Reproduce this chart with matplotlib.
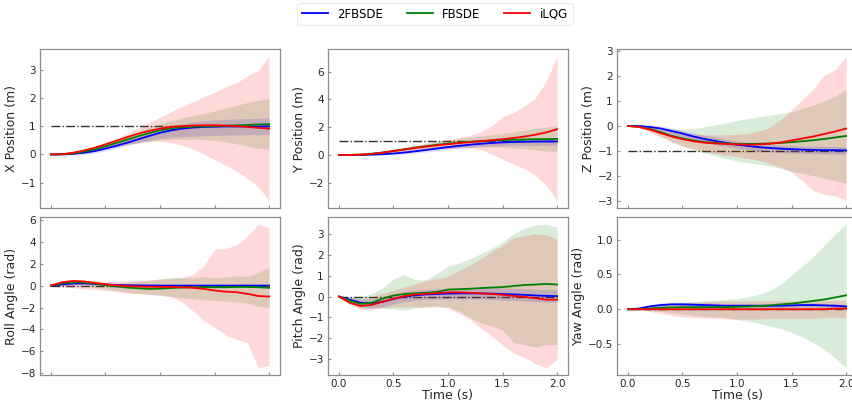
import numpy as np
import matplotlib
matplotlib.use("Agg")
import matplotlib.pyplot as plt
from matplotlib.ticker import MultipleLocator

# time grid (s)
t = [round(0.1 * i, 1) for i in range(21)]

labels = ["2FBSDE", "FBSDE", "iLQG"]
colors = ["blue", "green", "red"]

# ---------------- X position ----------------
x_target = 1.0
x_blue = [0, 0, 0.02, 0.06, 0.12, 0.21, 0.31, 0.42, 0.54, 0.66, 0.77, 0.86, 0.92, 0.96, 0.98, 0.99, 1.0, 1.0, 1.0, 1.0, 1.0]
x_blue_hi = [0, 0.01, 0.05, 0.11, 0.19, 0.3, 0.42, 0.55, 0.68, 0.8, 0.92, 1.02, 1.1, 1.16, 1.2, 1.23, 1.25, 1.27, 1.28, 1.29, 1.3]
x_blue_lo = [0, -0.01, -0.01, 0.01, 0.05, 0.13, 0.22, 0.32, 0.42, 0.5, 0.57, 0.6, 0.63, 0.65, 0.67, 0.68, 0.69, 0.7, 0.7, 0.71, 0.71]
x_green = [0, 0.01, 0.04, 0.1, 0.18, 0.29, 0.41, 0.53, 0.65, 0.76, 0.86, 0.93, 0.97, 0.99, 1.0, 1.01, 1.02, 1.04, 1.05, 1.07, 1.08]
x_green_hi = [0, 0.02, 0.07, 0.15, 0.26, 0.39, 0.53, 0.68, 0.83, 0.97, 1.1, 1.2, 1.3, 1.38, 1.46, 1.55, 1.65, 1.75, 1.85, 1.93, 2.0]
x_green_lo = [0, 0, 0.01, 0.05, 0.11, 0.19, 0.28, 0.36, 0.43, 0.48, 0.52, 0.53, 0.54, 0.55, 0.53, 0.5, 0.45, 0.38, 0.3, 0.22, 0.18]
x_red = [0, 0.01, 0.06, 0.14, 0.24, 0.36, 0.49, 0.62, 0.74, 0.84, 0.92, 0.98, 1.01, 1.03, 1.04, 1.04, 1.03, 1.01, 0.98, 0.95, 0.92]
x_red_hi = [0, 0.03, 0.08, 0.17, 0.28, 0.42, 0.58, 0.76, 0.95, 1.14, 1.33, 1.52, 1.7, 1.88, 2.05, 2.22, 2.4, 2.55, 2.8, 3.0, 3.5]
x_red_lo = [0, 0, 0.02, 0.06, 0.12, 0.2, 0.28, 0.36, 0.42, 0.46, 0.47, 0.42, 0.33, 0.2, 0.02, -0.18, -0.38, -0.6, -0.85, -1.15, -1.65]

# ---------------- Y position ----------------
y_target = 1.0
y_blue = [0, 0, 0, 0.02, 0.05, 0.1, 0.17, 0.26, 0.36, 0.46, 0.56, 0.65, 0.73, 0.8, 0.86, 0.9, 0.93, 0.95, 0.96, 0.97, 0.97]
y_blue_hi = [0, 0.01, 0.03, 0.07, 0.12, 0.19, 0.27, 0.37, 0.48, 0.59, 0.7, 0.8, 0.89, 0.97, 1.04, 1.09, 1.12, 1.14, 1.15, 1.16, 1.17]
y_blue_lo = [0, -0.01, -0.02, -0.02, -0.01, 0.02, 0.07, 0.14, 0.22, 0.31, 0.4, 0.48, 0.55, 0.6, 0.64, 0.66, 0.68, 0.69, 0.69, 0.7, 0.7]
y_green = [0, 0, 0.02, 0.08, 0.17, 0.28, 0.4, 0.52, 0.63, 0.73, 0.81, 0.88, 0.94, 0.99, 1.03, 1.06, 1.09, 1.11, 1.13, 1.14, 1.15]
y_green_hi = [0, 0.01, 0.05, 0.13, 0.25, 0.4, 0.56, 0.7, 0.84, 0.96, 1.07, 1.17, 1.26, 1.35, 1.45, 1.55, 1.65, 1.77, 1.9, 2.0, 2.1]
y_green_lo = [0, 0, 0, 0.03, 0.09, 0.17, 0.25, 0.33, 0.4, 0.46, 0.51, 0.55, 0.57, 0.58, 0.57, 0.54, 0.5, 0.44, 0.36, 0.28, 0.25]
y_red = [0, 0, 0.02, 0.08, 0.17, 0.28, 0.39, 0.5, 0.6, 0.69, 0.77, 0.85, 0.92, 0.99, 1.06, 1.13, 1.22, 1.32, 1.45, 1.62, 1.85]
y_red_hi = [0, 0.01, 0.05, 0.13, 0.25, 0.38, 0.52, 0.65, 0.8, 0.95, 1.1, 1.25, 1.4, 1.65, 2.1, 2.75, 3.05, 3.5, 4.1, 5.3, 7.1]
y_red_lo = [0, -0.01, -0.01, 0.02, 0.08, 0.15, 0.23, 0.3, 0.37, 0.42, 0.46, 0.48, 0.48, 0.38, 0.05, -0.3, -0.65, -1.0, -1.45, -2.2, -3.3]

# ---------------- Z position ----------------
z_target = -1.0
z_blue = [0, 0, -0.04, -0.1, -0.2, -0.3, -0.42, -0.52, -0.6, -0.68, -0.75, -0.8, -0.85, -0.88, -0.91, -0.93, -0.95, -0.96, -0.97, -0.97, -0.98]
z_blue_hi = [0, 0.03, 0.04, 0.0, -0.08, -0.17, -0.28, -0.38, -0.46, -0.53, -0.6, -0.65, -0.7, -0.73, -0.76, -0.78, -0.8, -0.81, -0.82, -0.82, -0.83]
z_blue_lo = [0, -0.03, -0.12, -0.22, -0.33, -0.44, -0.56, -0.66, -0.74, -0.82, -0.89, -0.95, -1.0, -1.03, -1.06, -1.08, -1.1, -1.11, -1.12, -1.13, -1.14]
z_green = [0, -0.03, -0.12, -0.25, -0.39, -0.5, -0.58, -0.64, -0.68, -0.7, -0.72, -0.72, -0.71, -0.7, -0.68, -0.65, -0.61, -0.57, -0.52, -0.46, -0.4]
z_green_hi = [0, 0, -0.03, -0.08, -0.12, -0.13, -0.1, -0.03, 0.04, 0.12, 0.22, 0.3, 0.37, 0.44, 0.5, 0.57, 0.7, 0.85, 1.0, 1.2, 1.48]
z_green_lo = [0, -0.05, -0.2, -0.4, -0.6, -0.8, -0.95, -1.08, -1.2, -1.3, -1.4, -1.47, -1.53, -1.6, -1.7, -1.82, -1.9, -2.0, -2.1, -2.2, -2.3]
z_red = [0, -0.04, -0.14, -0.28, -0.42, -0.53, -0.61, -0.67, -0.7, -0.72, -0.74, -0.75, -0.74, -0.71, -0.66, -0.58, -0.5, -0.42, -0.32, -0.22, -0.1]
z_red_hi = [0, 0, -0.05, -0.12, -0.2, -0.27, -0.32, -0.35, -0.36, -0.35, -0.33, -0.3, -0.2, -0.05, 0.25, 0.65, 1.05, 1.5, 2.05, 2.25, 2.8]
z_red_lo = [0, -0.05, -0.25, -0.45, -0.65, -0.8, -0.92, -1.02, -1.1, -1.17, -1.23, -1.3, -1.38, -1.5, -1.65, -1.85, -2.2, -2.6, -2.75, -2.8, -3.0]

# ---------------- Roll angle ----------------
r_target = 0.0
r_blue = [0, 0.1, 0.18, 0.2, 0.15, 0.1, 0.06, 0.03, 0.02, 0.01, 0, 0, 0, 0, 0, 0, 0, 0, 0, 0, 0]
r_blue_hi = [0, 0.2, 0.3, 0.32, 0.27, 0.22, 0.18, 0.15, 0.13, 0.12, 0.11, 0.11, 0.11, 0.11, 0.11, 0.11, 0.11, 0.11, 0.11, 0.11, 0.11]
r_blue_lo = [0, 0.0, 0.06, 0.08, 0.03, -0.02, -0.06, -0.09, -0.1, -0.11, -0.11, -0.11, -0.11, -0.11, -0.11, -0.11, -0.11, -0.11, -0.11, -0.11, -0.11]
r_green = [0, 0.2, 0.3, 0.28, 0.18, 0.05, -0.08, -0.18, -0.25, -0.3, -0.28, -0.22, -0.18, -0.15, -0.15, -0.15, -0.15, -0.12, -0.12, -0.15, -0.2]
r_green_hi = [0, 0.35, 0.5, 0.45, 0.35, 0.2, 0.2, 0.3, 0.4, 0.5, 0.6, 0.7, 0.75, 0.7, 0.8, 0.7, 0.8, 0.9, 0.8, 1.2, 1.7]
r_green_lo = [0, 0.05, 0.1, 0.05, -0.1, -0.3, -0.45, -0.6, -0.7, -0.8, -0.9, -1.0, -1.1, -1.2, -1.3, -1.35, -1.4, -1.5, -1.6, -1.9, -2.0]
r_red = [0, 0.3, 0.42, 0.38, 0.25, 0.12, 0.02, -0.05, -0.08, -0.1, -0.12, -0.12, -0.15, -0.2, -0.3, -0.45, -0.55, -0.6, -0.75, -0.95, -1.0]
r_red_hi = [0, 0.45, 0.55, 0.5, 0.45, 0.4, 0.4, 0.4, 0.45, 0.5, 0.6, 0.65, 0.7, 1.0, 1.8, 3.3, 3.4, 3.7, 4.5, 5.6, 5.3]
r_red_lo = [0, -0.1, -0.2, -0.3, -0.35, -0.45, -0.55, -0.7, -0.75, -0.8, -0.85, -1.0, -1.5, -2.3, -3.2, -3.8, -4.5, -4.9, -5.2, -7.5, -7.3]

# ---------------- Pitch angle ----------------
p_target = 0.0
p_blue = [0, -0.15, -0.3, -0.33, -0.25, -0.12, 0.0, 0.06, 0.1, 0.12, 0.14, 0.15, 0.15, 0.15, 0.14, 0.12, 0.1, 0.08, 0.05, 0.03, 0.02]
p_blue_hi = [0, -0.02, -0.12, -0.12, -0.02, 0.12, 0.24, 0.3, 0.34, 0.37, 0.39, 0.41, 0.42, 0.42, 0.42, 0.41, 0.39, 0.37, 0.35, 0.33, 0.32]
p_blue_lo = [0, -0.28, -0.48, -0.54, -0.48, -0.36, -0.24, -0.18, -0.14, -0.13, -0.11, -0.11, -0.12, -0.12, -0.14, -0.17, -0.19, -0.21, -0.25, -0.27, -0.28]
p_green = [0, -0.2, -0.35, -0.3, -0.1, 0.05, 0.12, 0.15, 0.18, 0.22, 0.33, 0.35, 0.37, 0.4, 0.43, 0.45, 0.5, 0.55, 0.57, 0.6, 0.57]
p_green_hi = [0, 0, 0, 0.15, 0.4, 0.85, 1.05, 0.8, 0.8, 1.1, 1.45, 1.6, 1.8, 2.05, 2.3, 2.6, 3.0, 3.25, 3.4, 3.45, 3.3]
p_green_lo = [0, -0.35, -0.55, -0.55, -0.55, -0.6, -0.65, -0.55, -0.5, -0.5, -0.5, -0.7, -1.0, -1.25, -1.4, -1.6, -2.2, -2.3, -2.4, -2.3, -2.3]
p_red = [0, -0.3, -0.45, -0.4, -0.25, -0.1, 0.02, 0.1, 0.13, 0.16, 0.2, 0.2, 0.18, 0.15, 0.12, 0.08, 0.03, -0.02, -0.08, -0.15, -0.15]
p_red_hi = [0, -0.1, -0.1, 0.0, 0.15, 0.3, 0.45, 0.6, 0.75, 0.85, 0.95, 1.25, 1.5, 1.8, 2.15, 2.45, 2.8, 2.9, 3.0, 2.95, 2.75]
p_red_lo = [0, -0.4, -0.6, -0.6, -0.55, -0.5, -0.5, -0.5, -0.5, -0.45, -0.55, -0.8, -1.1, -1.5, -1.9, -2.3, -2.7, -2.9, -3.2, -3.4, -3.0]

# ---------------- Yaw angle ----------------
w_target = 0.0
w_blue = [0, 0.01, 0.04, 0.06, 0.07, 0.07, 0.065, 0.06, 0.055, 0.05, 0.05, 0.05, 0.05, 0.05, 0.05, 0.055, 0.06, 0.06, 0.055, 0.05, 0.04]
w_blue_hi = [0, 0.03, 0.07, 0.09, 0.1, 0.1, 0.095, 0.09, 0.085, 0.08, 0.08, 0.08, 0.08, 0.08, 0.08, 0.085, 0.09, 0.09, 0.085, 0.08, 0.07]
w_blue_lo = [0, -0.01, 0.01, 0.03, 0.04, 0.04, 0.035, 0.03, 0.025, 0.02, 0.02, 0.02, 0.02, 0.02, 0.02, 0.025, 0.03, 0.03, 0.025, 0.02, 0.01]
w_green = [0, 0, 0.01, 0.02, 0.025, 0.03, 0.03, 0.03, 0.03, 0.03, 0.035, 0.04, 0.045, 0.055, 0.07, 0.08, 0.1, 0.12, 0.14, 0.17, 0.2]
w_green_hi = [0, 0.02, 0.05, 0.07, 0.09, 0.1, 0.11, 0.12, 0.13, 0.14, 0.15, 0.18, 0.21, 0.27, 0.36, 0.49, 0.62, 0.75, 0.92, 1.08, 1.22]
w_green_lo = [0, -0.01, -0.02, -0.03, -0.05, -0.07, -0.09, -0.1, -0.11, -0.12, -0.15, -0.17, -0.2, -0.24, -0.28, -0.33, -0.4, -0.48, -0.58, -0.7, -0.84]
w_red = [0, 0, 0, 0, 0, 0, 0, 0, 0, 0, 0, 0, 0, 0, 0, 0, 0, 0, 0, 0.01, 0.01]
w_red_hi = [0, 0.01, 0.03, 0.05, 0.07, 0.09, 0.1, 0.11, 0.11, 0.12, 0.12, 0.12, 0.12, 0.12, 0.12, 0.12, 0.12, 0.13, 0.13, 0.13, 0.13]
w_red_lo = [0, -0.01, -0.03, -0.06, -0.09, -0.11, -0.12, -0.13, -0.13, -0.14, -0.14, -0.14, -0.14, -0.13, -0.13, -0.13, -0.13, -0.13, -0.12, -0.12, -0.12]

# y tick step of each panel
y_steps = [1, 2, 1, 2, 1, 0.5]

panels = [
    ("X Position (m)", x_target, [(x_blue, x_blue_lo, x_blue_hi), (x_green, x_green_lo, x_green_hi), (x_red, x_red_lo, x_red_hi)]),
    ("Y Position (m)", y_target, [(y_blue, y_blue_lo, y_blue_hi), (y_green, y_green_lo, y_green_hi), (y_red, y_red_lo, y_red_hi)]),
    ("Z Position (m)", z_target, [(z_blue, z_blue_lo, z_blue_hi), (z_green, z_green_lo, z_green_hi), (z_red, z_red_lo, z_red_hi)]),
    ("Roll Angle (rad)", r_target, [(r_blue, r_blue_lo, r_blue_hi), (r_green, r_green_lo, r_green_hi), (r_red, r_red_lo, r_red_hi)]),
    ("Pitch Angle (rad)", p_target, [(p_blue, p_blue_lo, p_blue_hi), (p_green, p_green_lo, p_green_hi), (p_red, p_red_lo, p_red_hi)]),
    ("Yaw Angle (rad)", w_target, [(w_blue, w_blue_lo, w_blue_hi), (w_green, w_green_lo, w_green_hi), (w_red, w_red_lo, w_red_hi)]),
]

W, H = 853, 401
fig = plt.figure(figsize=(W / 100, H / 100), dpi=100)

col_left = [40, 328, 617]
col_width = 240
row_top = [49, 217]
row_height = [159, 158]

spine_col = "#8c8c8c"
text_col = "#262626"
handles = []
for idx, (ylabel, target, series) in enumerate(panels):
    r, c = divmod(idx, 3)
    left = col_left[c] / W
    bottom = 1 - (row_top[r] + row_height[r]) / H
    ax = fig.add_axes([left, bottom, col_width / W, row_height[r] / H])
    ax.plot([t[0], t[-1]], [target, target], color="#333333", linestyle="-.", linewidth=1.0, zorder=1)
    for (m, lo, hi), col, lab in zip(series, colors, labels):
        ax.fill_between(t, lo, hi, color=col, alpha=0.15, linewidth=0, zorder=2)
    for (m, lo, hi), col, lab in zip(series, colors, labels):
        h, = ax.plot(t, m, color=col, linewidth=1.3, label=lab, zorder=3)
        if idx == 0:
            handles.append(h)
    ax.set_xlim(-0.1, 2.1)
    ax.set_xticks([0, 0.5, 1.0, 1.5, 2.0])
    ax.yaxis.set_major_locator(MultipleLocator(y_steps[idx]))
    ax.set_ylabel(ylabel, fontsize=9, color=text_col, labelpad=2)
    ax.tick_params(direction="in", length=2.5, width=0.8, colors=spine_col,
                   labelcolor=text_col, labelsize=7.5, pad=3)
    for s in ax.spines.values():
        s.set_color(spine_col)
        s.set_linewidth(0.9)
    if r == 0 or c == 0:
        ax.tick_params(labelbottom=False)
    else:
        ax.set_xlabel("Time (s)", fontsize=9, color=text_col, labelpad=0)

leg = fig.legend(handles=handles, labels=labels, loc="center", ncol=3,
                 bbox_to_anchor=(435 / W, 1 - 14 / H), fontsize=8.5,
                 frameon=True, handlelength=2.2, columnspacing=2.0,
                 borderpad=0.4, handletextpad=0.8)
leg.get_frame().set_edgecolor("#e6e6e6")
leg.get_frame().set_linewidth(0.8)

fig.savefig("out.png", dpi=100)
